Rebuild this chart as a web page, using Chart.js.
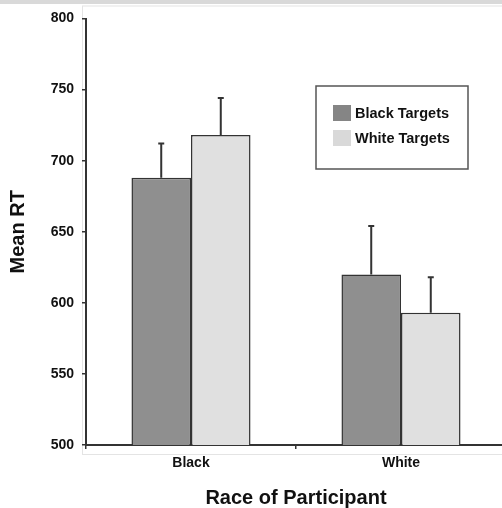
<!DOCTYPE html>
<html>
<head>
<meta charset="utf-8">
<script src="https://cdn.jsdelivr.net/npm/chart.js@4/dist/chart.umd.min.js"></script>
<style>
  html, body { margin: 0; padding: 0; background: #fff; overflow: hidden; width: 502px; height: 508px; }
  canvas { position: absolute; left: 0; top: 0; }
  #strip { position: absolute; left: 0; top: 0; width: 502px; height: 4px; background: #d9d9d9; }
</style>
</head>
<body>
<canvas id="chart" width="506" height="508"></canvas>
<div id="strip"></div>
<script>
// Mean reaction time by race of participant and race of target
const categories = ['Black', 'White'];
const seriesNames = ['Black Targets', 'White Targets'];
const blackTargetMeans = [688, 620];
const whiteTargetMeans = [718, 593];
const blackTargetErrors = [24, 34];
const whiteTargetErrors = [26, 25];
const yTicks = [500, 550, 600, 650, 700, 750, 800];

const INK = '#333333';
const FONT = '"Liberation Sans", Arial, sans-serif';

// Faint frame around the plotting region
const frame = {
  id: 'frame',
  beforeDraw(chart) {
    const { ctx, chartArea: a } = chart;
    ctx.save();
    ctx.strokeStyle = '#e4e4e4';
    ctx.lineWidth = 1;
    ctx.strokeRect(a.left - 3.5, a.top - 12.5, a.right - a.left + 10, a.bottom - a.top + 22);
    ctx.restore();
  }
};

// Upward error whiskers with a short cap
const errorBars = {
  id: 'errorBars',
  afterDatasetsDraw(chart) {
    const { ctx } = chart;
    const y = chart.scales.y;
    chart.data.datasets.forEach((ds, di) => {
      chart.getDatasetMeta(di).data.forEach((bar, i) => {
        const top = y.getPixelForValue(ds.data[i] + ds.errors[i]);
        ctx.save();
        ctx.strokeStyle = INK;
        ctx.lineWidth = 2;
        ctx.beginPath();
        ctx.moveTo(bar.x, bar.y);
        ctx.lineTo(bar.x, top);
        ctx.moveTo(bar.x - 3, top);
        ctx.lineTo(bar.x + 3, top);
        ctx.stroke();
        ctx.restore();
      });
    });
  }
};

// Boxed legend inside the plot
const boxLegend = {
  id: 'boxLegend',
  afterDraw(chart) {
    const { ctx } = chart;
    const x0 = 316, y0 = 86, w = 152, h = 83;
    ctx.save();
    ctx.fillStyle = '#ffffff';
    ctx.fillRect(x0, y0, w, h);
    ctx.strokeStyle = '#555555';
    ctx.lineWidth = 1.5;
    ctx.strokeRect(x0, y0, w, h);
    ctx.font = 'bold 14.5px ' + FONT;
    ctx.textBaseline = 'middle';
    chart.data.datasets.forEach((ds, i) => {
      const cy = 113 + i * 25;
      ctx.fillStyle = ds.legendColor;
      ctx.fillRect(333, cy - 8, 18, 16);
      ctx.fillStyle = '#111111';
      ctx.fillText(ds.label, 355, cy + 1);
    });
    ctx.restore();
  }
};

new Chart(document.getElementById('chart'), {
  type: 'bar',
  data: {
    labels: categories,
    datasets: [
      {
        label: seriesNames[0],
        data: blackTargetMeans,
        errors: blackTargetErrors,
        backgroundColor: '#8f8f8f',
        legendColor: '#858585',
        borderColor: INK,
        borderWidth: 1.5
      },
      {
        label: seriesNames[1],
        data: whiteTargetMeans,
        errors: whiteTargetErrors,
        backgroundColor: '#e0e0e0',
        legendColor: '#d9d9d9',
        borderColor: INK,
        borderWidth: 1.5
      }
    ]
  },
  options: {
    responsive: false,
    animation: false,
    layout: { padding: { top: 18.5, right: 0, bottom: 0, left: 0 } },
    datasets: {
      bar: { categoryPercentage: 0.567, barPercentage: 1.0 }
    },
    plugins: {
      legend: { display: false },
      tooltip: { enabled: false }
    },
    scales: {
      x: {
        afterFit(scale) { scale.height = 63; },
        border: { color: INK, width: 2 },
        grid: { offset: true, drawOnChartArea: false, drawTicks: true, tickLength: 4, color: INK, lineWidth: 1.5 },
        ticks: { color: '#111111', font: { family: FONT, size: 14, weight: 'bold' }, padding: 6 },
        title: {
          display: true,
          text: 'Race of Participant',
          color: '#111111',
          font: { family: FONT, size: 20, weight: 'bold', lineHeight: 1 },
          padding: { top: 0, bottom: 0 }
        }
      },
      y: {
        min: 500,
        max: 800,
        afterFit(scale) { scale.width = 86; },
        afterBuildTicks(scale) { scale.ticks = yTicks.map(v => ({ value: v })); },
        border: { color: INK, width: 2 },
        grid: { drawOnChartArea: false, drawTicks: true, tickLength: 4, color: INK, lineWidth: 1.5 },
        ticks: { color: '#111111', font: { family: FONT, size: 14, weight: 'bold' }, padding: 8 },
        title: {
          display: true,
          text: 'Mean RT',
          color: '#111111',
          font: { family: FONT, size: 20, weight: 'bold', lineHeight: 1 },
          padding: { top: 8, bottom: 0 }
        }
      }
    }
  },
  plugins: [frame, errorBars, boxLegend]
});
</script>
</body>
</html>
